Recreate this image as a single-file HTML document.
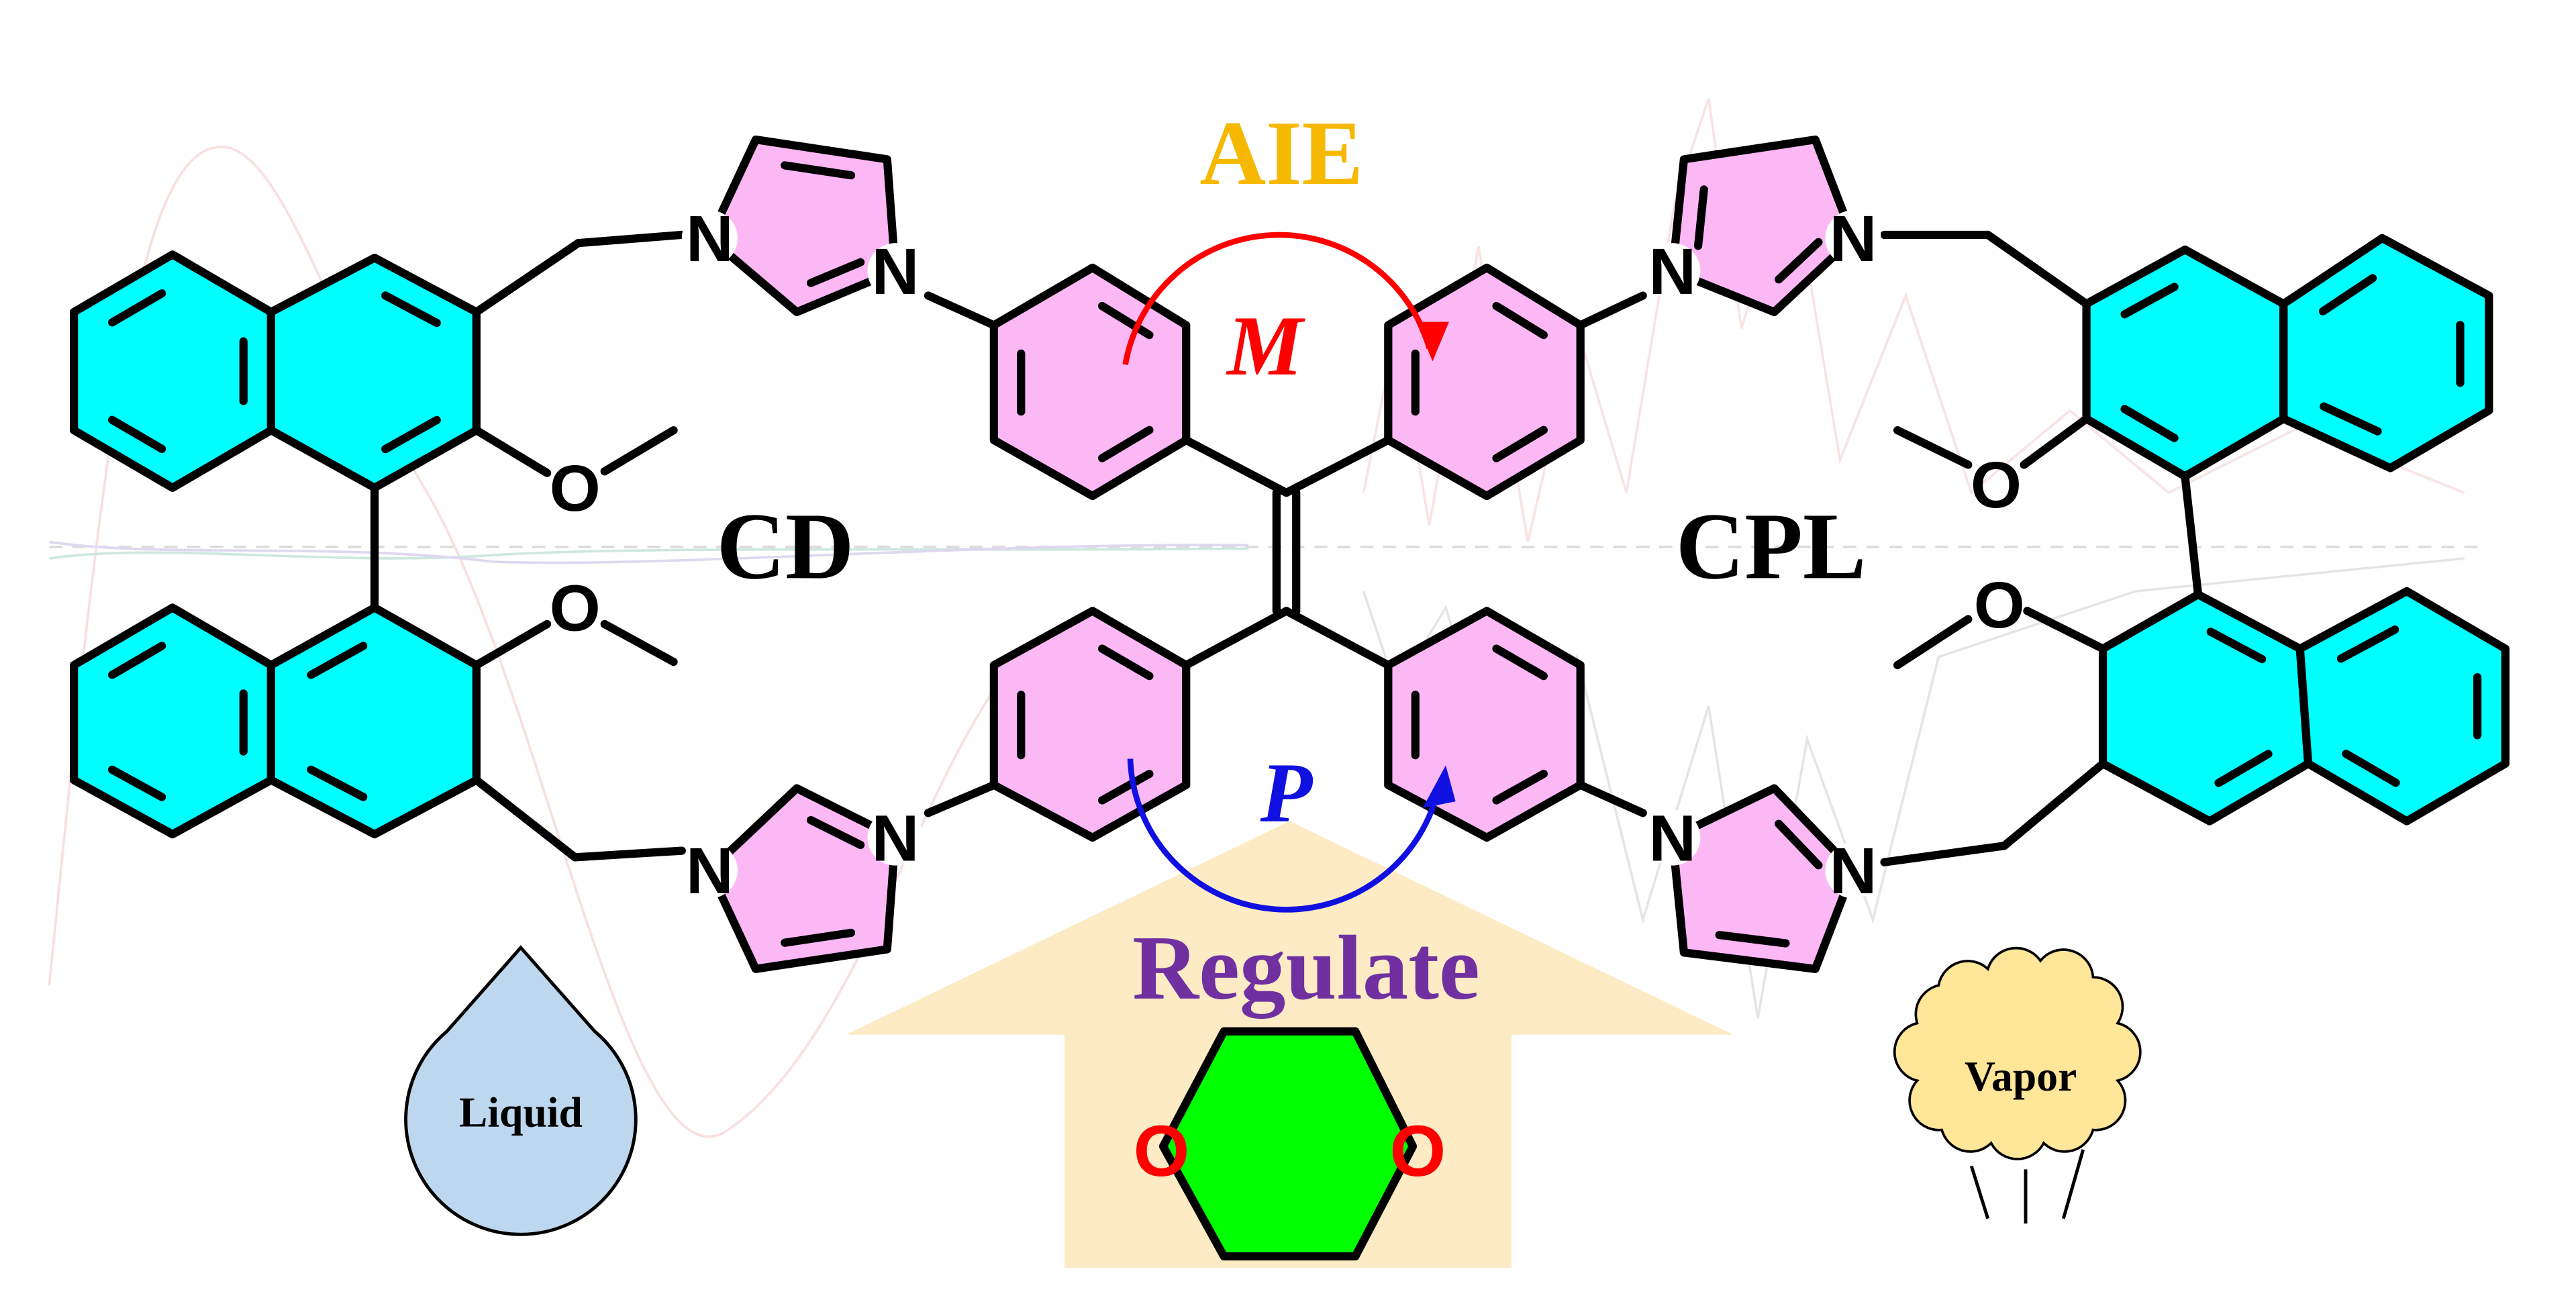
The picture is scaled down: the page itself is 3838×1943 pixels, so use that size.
<!DOCTYPE html>
<html><head><meta charset="utf-8">
<style>html,body{margin:0;padding:0;background:#fff;}svg{display:block}</style></head>
<body>
<svg id="s" width="3838" height="1943" viewBox="0 0 1568 794" preserveAspectRatio="none" xmlns="http://www.w3.org/2000/svg" font-family="Liberation Serif, serif">
<g id="bg" fill="none" stroke-width="1.5" opacity="0.5">
<line x1="30" y1="333" x2="1510" y2="333" stroke="#bbb" stroke-dasharray="8,6"/>
<path d="M30 600 C60 300 80 100 130 90 C170 80 200 200 260 300 C330 420 380 720 440 690 C520 640 560 470 620 400" stroke="#f6c0c0"/>
<path d="M30 340 C100 330 200 345 300 338 C400 332 600 336 760 334" stroke="#9fd0c0"/>
<path d="M30 330 C100 340 200 330 300 342 C400 346 600 330 760 332" stroke="#c0b0e0"/>
<path d="M830 300 L850 200 L870 320 L900 150 L930 330 L960 200 L990 300 L1020 120 L1040 60 L1060 200 L1090 100 L1120 280 L1160 180 L1200 300 L1260 250 L1320 300 L1400 260 L1500 300" stroke="#f6c8c8"/>
<path d="M830 360 L850 420 L880 370 L920 500 L960 400 L1000 560 L1040 430 L1070 620 L1100 450 L1140 560 L1180 400 L1240 380 L1300 360 L1400 350 L1500 340" stroke="#ccc"/>
</g>
<polygon points="515,630 785,500 1055,630 920,630 920,772 648,772 648,630" fill="#fcebc4"/>
<g id="mol" stroke="#000" stroke-width="5" stroke-linejoin="round" stroke-linecap="round" fill="none"></g>
<g font-weight="bold" text-anchor="middle">
<text x="780" y="112" font-size="56" fill="#f6b800">AIE</text>
<text x="770" y="228" font-size="52" fill="#f00" font-style="italic">M</text>
<text x="783" y="500" font-size="52" fill="#1010e0" font-style="italic">P</text>
<text x="478" y="352" font-size="58" fill="#000">CD</text>
<text x="1078" y="352" font-size="58" fill="#000">CPL</text>
<text x="795" y="608" font-size="56" fill="#7030a0">Regulate</text>
<text x="707" y="716" font-size="44" fill="#f00" font-family="Liberation Sans, sans-serif">O</text>
<text x="863" y="716" font-size="44" fill="#f00" font-family="Liberation Sans, sans-serif">O</text>
</g>
<g stroke-width="3.5" fill="none">
<path d="M685 222 A95 95 0 0 1 870 212" stroke="#f00"/>
<polygon points="862,196 882,196 872,220" fill="#f00"/>
<path d="M688 462 A95 95 0 0 0 876 478" stroke="#1010e0"/>
<polygon points="866,492 886,488 880,466" fill="#1010e0"/>
</g>
<path d="M317 577 L362 628 A70 70 0 1 1 272 628 Z" fill="#bdd7ee" stroke="#000" stroke-width="2"/>
<text x="317" y="686" font-size="26" font-weight="bold" text-anchor="middle">Liquid</text>
<path d="M1180 600 a18 18 0 0 1 30 -10 a18 18 0 0 1 32 -5 a18 18 0 0 1 32 10 a18 18 0 0 1 15 28 a18 18 0 0 1 0 35 a18 18 0 0 1 -15 30 a18 18 0 0 1 -30 8 a18 18 0 0 1 -32 0 a18 18 0 0 1 -30 -8 a18 18 0 0 1 -15 -30 a18 18 0 0 1 0 -35 a18 18 0 0 1 13 -23 Z" fill="#ffe699" stroke="#000" stroke-width="1.5"/>
<text x="1230" y="664" font-size="26" font-weight="bold" text-anchor="middle">Vapor</text>
<g stroke="#000" stroke-width="2"><line x1="1200" y1="710" x2="1210" y2="742"/><line x1="1233" y1="712" x2="1233" y2="745"/><line x1="1268" y1="700" x2="1256" y2="742"/></g>
</svg>
<script>
var g=document.getElementById('mol'),NS='http://www.w3.org/2000/svg';
function el(t,a){var e=document.createElementNS(NS,t);for(var k in a)e.setAttribute(k,a[k]);g.appendChild(e);return e;}
function poly(p,fill){el('polygon',{points:p.map(function(q){return q.join(',')}).join(' '),fill:fill});}
function ln(a,b){el('line',{x1:a[0],y1:a[1],x2:b[0],y2:b[1]});}
function inner(p,idx){var cx=0,cy=0;p.forEach(function(q){cx+=q[0];cy+=q[1]});cx/=p.length;cy/=p.length;
 idx.forEach(function(i){var a=p[i],b=p[(i+1)%p.length],f=0.72,s=0.15;
  var a2=[cx+(a[0]-cx)*f,cy+(a[1]-cy)*f],b2=[cx+(b[0]-cx)*f,cy+(b[1]-cy)*f];
  var a3=[a2[0]+(b2[0]-a2[0])*s,a2[1]+(b2[1]-a2[1])*s],b3=[b2[0]+(a2[0]-b2[0])*s,b2[1]+(a2[1]-b2[1])*s];ln(a3,b3);});}
var C='#00ffff',P='#fcb8f4';
[[[290,190],[352,148]],[[352,148],[415,143]],[[290,262],[333,288]],[[368,287],[410,262]],[[228,297],[228,370]],
[[290,405],[333,380]],[[368,380],[410,403]],[[290,475],[350,522]],[[350,522],[415,518]],
[[565,180],[605,198]],[[722,268],[783,300]],[[845,268],[783,300]],[[962,198],[1000,180]],
[[1147,143],[1210,143]],[[1210,143],[1270,185]],[[1270,255],[1232,283]],[[1198,283],[1155,262]],[[1330,290],[1338,362]],
[[1280,395],[1234,372]],[[1198,377],[1155,405]],[[1280,465],[1220,515]],[[1220,515],[1147,525]],
[[722,405],[783,372]],[[845,405],[783,372]],[[605,478],[565,495]],[[962,478],[1000,495]]].forEach(function(b){ln(b[0],b[1]);});
ln([777,300],[777,372]);ln([789,300],[789,372]);
var rings=[
 [[[45,190],[105,155],[165,190],[165,262],[105,297],[45,262]],C,[0,2,4]],
 [[[165,190],[228,157],[290,190],[290,262],[228,297],[165,262]],C,[1,3]],
 [[[45,405],[105,370],[165,405],[165,475],[105,508],[45,475]],C,[0,2,4]],
 [[[165,405],[228,370],[290,405],[290,475],[228,508],[165,475]],C,[0,4]],
 [[[1270,185],[1330,152],[1390,185],[1390,255],[1330,290],[1270,255]],C,[0,4]],
 [[[1390,185],[1450,145],[1515,180],[1515,250],[1455,285],[1390,255]],C,[0,2,4]],
 [[[1280,395],[1338,362],[1400,395],[1405,465],[1345,500],[1280,465]],C,[1,3]],
 [[[1400,395],[1465,360],[1525,395],[1525,465],[1465,500],[1405,465]],C,[0,2,4]],
 [[[605,198],[665,163],[722,198],[722,268],[665,302],[605,268]],P,[1,3,5]],
 [[[845,198],[905,163],[962,198],[962,268],[905,302],[845,268]],P,[1,3,5]],
 [[[605,405],[665,372],[722,405],[722,478],[665,510],[605,478]],P,[1,3,5]],
 [[[845,405],[905,372],[962,405],[962,478],[905,510],[845,478]],P,[1,3,5]]
];
rings.forEach(function(r){poly(r[0],r[1]);inner(r[0],r[2]);});
el('polygon',{points:'745,628 825,628 860,698 825,765 745,765 708,698',fill:'#00ff00'});
var im=[
 [[[432,145],[460,85],[540,97],[545,165],[485,190]],[0,3],[1,3]],
 [[[1018,165],[1025,97],[1105,85],[1128,145],[1080,190]],[0,3],[0,3]],
 [[[545,510],[485,480],[432,530],[460,590],[540,578]],[0,2],[0,3]],
 [[[1018,510],[1080,480],[1128,530],[1105,590],[1025,580]],[0,2],[1,3]]
];
im.forEach(function(r){var p=r[0];poly(p,P);inner(p,r[2]);});
im.forEach(function(r){r[1].forEach(function(i){var q=r[0][i];
 el('circle',{cx:q[0],cy:q[1],r:17,fill:'#fff',stroke:'none'});
 var t=el('text',{x:q[0],y:q[1]+14,'font-size':40,'font-weight':'bold','text-anchor':'middle',fill:'#000',stroke:'none','font-family':'Liberation Sans, sans-serif'});t.textContent='N';});});
[[350,297],[350,370],[1215,295],[1217,368]].forEach(function(q){
 var t=el('text',{x:q[0],y:q[1]+14,'font-size':40,'font-weight':'bold','text-anchor':'middle',fill:'#000',stroke:'none','font-family':'Liberation Sans, sans-serif'});t.textContent='O';});
</script>
</body></html>
